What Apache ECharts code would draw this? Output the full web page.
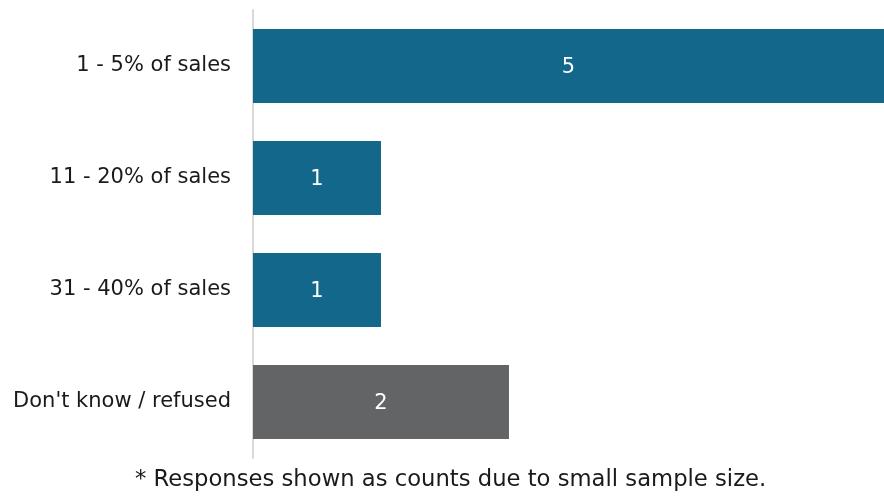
<!DOCTYPE html>
<html><head><meta charset="utf-8">
<script src="https://cdn.jsdelivr.net/npm/echarts@6/dist/echarts.min.js"></script>
<style>html,body{margin:0;padding:0;background:#fff}#c{width:884px;height:496px}</style>
</head><body><div id="c"></div>
<script>
const categories = ["1 - 5% of sales", "11 - 20% of sales", "31 - 40% of sales", "Don't know / refused"];
const values = [5, 1, 1, 2];
const barColors = ["#13678a", "#13678a", "#13678a", "#636466"];
const footnote = "* Responses shown as counts due to small sample size.";
const font = 'DejaVu Sans';

const chart = echarts.init(document.getElementById('c'), null, {renderer: 'canvas'});
chart.setOption({
  animation: false,
  grid: {left: 253, right: 0, top: 10, bottom: 38, containLabel: false},
  xAxis: {type: 'value', min: 0, max: 4.93, show: false},
  yAxis: {
    type: 'category', data: categories, inverse: true,
    axisLine: {show: true, lineStyle: {color: '#d9d9d9', width: 2}},
    axisTick: {show: false},
    axisLabel: {color: '#1a1a1a', fontSize: 21, fontFamily: font, margin: 22}
  },
  series: [{
    type: 'bar', barWidth: '66%',
    data: values.map((v, i) => ({value: v, itemStyle: {color: barColors[i]}})),
    label: {show: true, position: 'inside', color: '#fff', fontSize: 21, fontFamily: font, offset: [0, 2]}
  }],
  graphic: [{
    type: 'text', left: 135, top: 469,
    style: {text: footnote, fontSize: 22.7, fontFamily: font, fill: '#1a1a1a'}
  }]
});
</script></body></html>
